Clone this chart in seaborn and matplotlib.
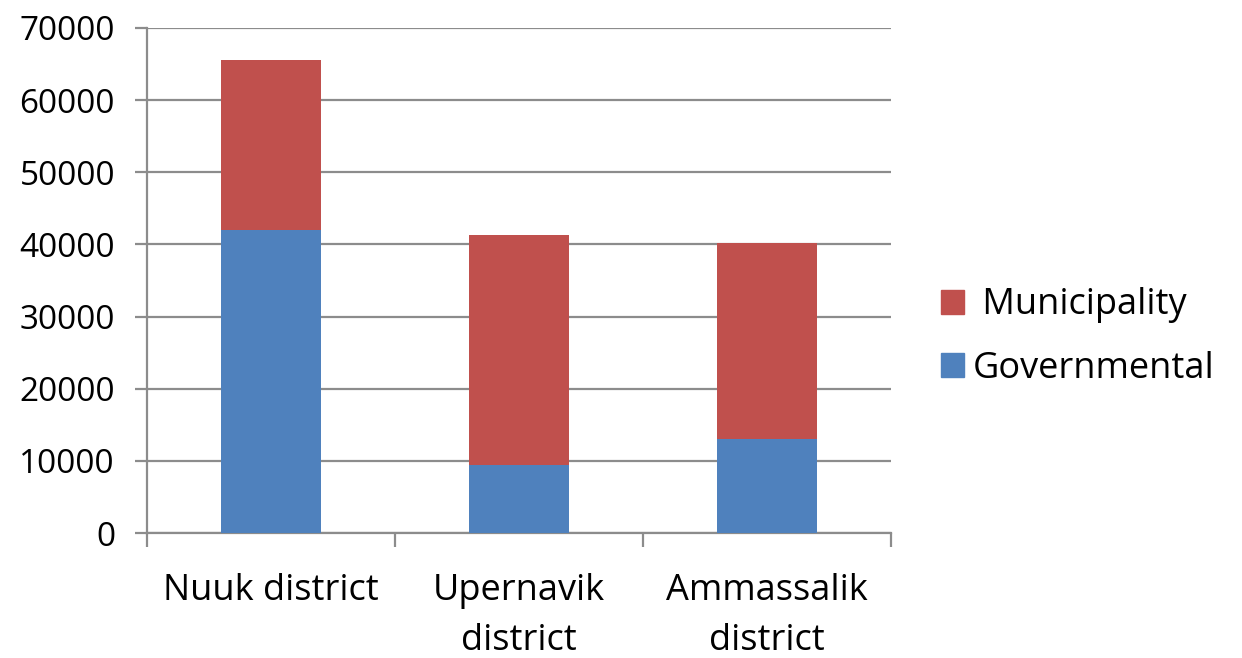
import seaborn as sns
import matplotlib.pyplot as plt
from matplotlib.patches import Patch
import pandas as pd

# values
districts = ["Nuuk district", "Upernavik\ndistrict", "Ammassalik\ndistrict"]
governmental = [42000, 9400, 13000]
municipality = [23550, 31850, 27250]

red = "#C0504D"
blue = "#4F81BD"
grid = "#8C8C8C"

df = pd.DataFrame({
    "district": districts,
    "Governmental": governmental,
    "Municipality": municipality,
})
df["total"] = df["Governmental"] + df["Municipality"]

sns.set_style("white")
plt.rcParams["font.family"] = ["Open Sans", "DejaVu Sans"]
plt.rcParams["text.color"] = "black"

fig = plt.figure(figsize=(12.42, 6.58), dpi=100)
ax = fig.add_axes([147 / 1242, 125 / 658, 744 / 1242, 505 / 658])

# stacked bars: draw the totals in red, then the governmental part in blue over them
sns.barplot(data=df, x="district", y="total", color=red, width=0.4,
            saturation=1, linewidth=0, ax=ax, zorder=3)
sns.barplot(data=df, x="district", y="Governmental", color=blue, width=0.4,
            saturation=1, linewidth=0, ax=ax, zorder=4)

ax.set_xlim(-0.5, 2.5)
ax.set_ylim(0, 70000)
ax.set_yticks(range(0, 70001, 10000))
ax.yaxis.grid(True, color=grid, linewidth=1.6, zorder=0)
ax.set_axisbelow(True)

ax.set_xlabel("")
ax.set_ylabel("")

# category separator ticks below the axis
ax.set_xticks([-0.5, 0.5, 1.5, 2.5], minor=True)
ax.tick_params(axis="x", which="minor", length=10, width=1.6, color=grid,
               direction="out", bottom=True)
ax.tick_params(axis="x", which="major", length=0, pad=29, labelsize=26,
               labelcolor="black")
ax.tick_params(axis="y", length=9, width=1.6, color=grid, direction="out",
               left=True, pad=14, labelsize=24, labelcolor="black")
for lab in ax.get_xticklabels():
    lab.set_linespacing(1.5)

for side in ["top", "right"]:
    ax.spines[side].set_visible(False)
for side in ["left", "bottom"]:
    ax.spines[side].set_color(grid)
    ax.spines[side].set_linewidth(1.6)

handles = [Patch(color=red, label=" Municipality"),
           Patch(color=blue, label="Governmental")]
fig.legend(handles=handles, loc="center left",
           bbox_to_anchor=(908 / 1242, 1 - 337 / 658),
           frameon=False, fontsize=26, handlelength=0.65, handleheight=0.65,
           handletextpad=0.25, labelspacing=0.75, labelcolor="black")

fig.savefig("out.png", dpi=100)
